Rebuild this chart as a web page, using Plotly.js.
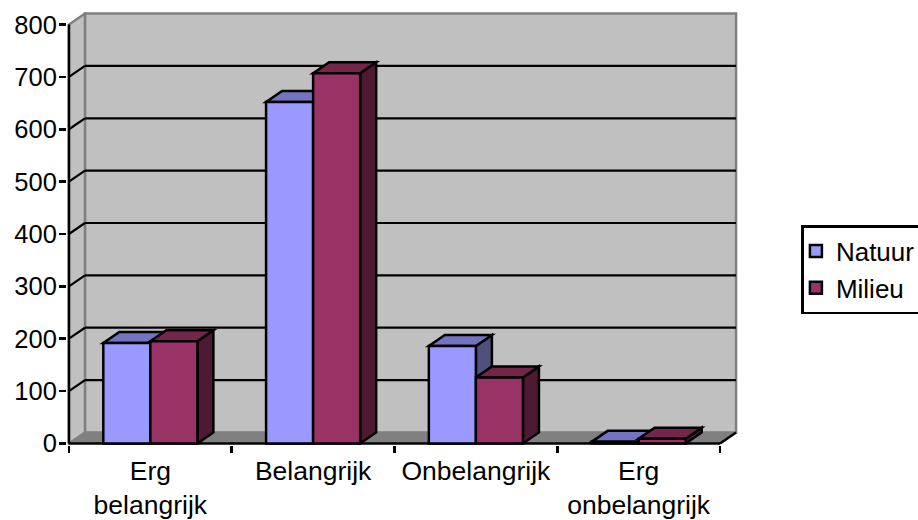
<!DOCTYPE html>
<html>
<head>
<meta charset="utf-8">
<script src="https://cdn.plot.ly/plotly-3.0.1.min.js"></script>
<style>html,body{margin:0;padding:0;background:#fff;overflow:hidden}</style>
</head>
<body>
<div id="chart" style="width:918px;height:520px"></div>
<script>
const categories = ['Erg<br>belangrijk', 'Belangrijk', 'Onbelangrijk', 'Erg<br>onbelangrijk'];
const natuur = [192, 652, 186, 3];
const milieu = [195, 707, 126, 9];
const yTicks = [0, 100, 200, 300, 400, 500, 600, 700, 800];

const barWidth = 0.289;
const depthX = 0.0983;
const depthY = 21;
const xMin = -0.5, xMax = 3.5, yMax = 800;
const padX = 0.012, padY = 3;
const FONT = 'Liberation Sans, Arial, sans-serif';

function poly(pts, fill, line, lw) {
  const path = 'M' + pts.map(p => p[0] + ',' + p[1]).join('L') + 'Z';
  return {type: 'path', xref: 'x', yref: 'y', path, fillcolor: fill,
          line: {color: line, width: lw}, layer: 'below'};
}
function seg(x0, y0, x1, y1, color, w) {
  return {type: 'line', xref: 'x', yref: 'y', x0, y0, x1, y1,
          line: {color, width: w}, layer: 'below'};
}

const shapes = [];
// back wall, side wall, floor
shapes.push(poly([[xMin + depthX, depthY], [xMax + depthX, depthY], [xMax + depthX, yMax + depthY], [xMin + depthX, yMax + depthY]], '#C0C0C0', '#808080', 2.5));
shapes.push(poly([[xMin, 0], [xMin + depthX, depthY], [xMin + depthX, yMax + depthY], [xMin, yMax]], '#C0C0C0', '#808080', 2.5));
shapes.push(poly([[xMin, 0], [xMax, 0], [xMax + depthX, depthY], [xMin + depthX, depthY]], '#808080', '#808080', 1));
// gridlines on the walls
yTicks.slice(1, -1).forEach(v => {
  shapes.push(seg(xMin, v, xMin + depthX, v + depthY, '#000', 2.2));
  shapes.push(seg(xMin + depthX, v + depthY, xMax + depthX, v + depthY, '#000', 2.2));
});
// axis lines
shapes.push(seg(xMin, 0, xMin, yMax, '#000', 2.5));
shapes.push(seg(xMin, 0, xMax, 0, '#000', 2.5));
shapes.push(seg(xMax, 0, xMax + depthX, depthY, '#000', 2.5));

// depth faces of the bars
function faces(values, off, topColor, sideColor) {
  values.forEach((v, i) => {
    const a = i + off, b = a + barWidth;
    shapes.push(poly([[b, 0], [b + depthX, depthY], [b + depthX, v + depthY], [b, v]], sideColor, '#000', 2.5));
    shapes.push(poly([[a, v], [b, v], [b + depthX, v + depthY], [a + depthX, v + depthY]], topColor, '#000', 2.5));
  });
}
faces(natuur, -barWidth, '#7373BF', '#50507F');
faces(milieu, 0, '#732649', '#4D1933');

const traces = [
  {type: 'bar', name: 'Natuur', x: categories, y: natuur, legendgroup: 'a',
   marker: {color: '#9999FF', line: {color: '#000', width: 2.5}}},
  {type: 'bar', name: 'Milieu', x: categories, y: milieu, legendgroup: 'b',
   marker: {color: '#993366', line: {color: '#000', width: 2.5}}}
];

const layout = {
  width: 918, height: 520,
  margin: {l: 67, r: 180, t: 12.4, b: 75.4, pad: 0, autoexpand: false},
  paper_bgcolor: '#fff', plot_bgcolor: 'rgba(0,0,0,0)',
  barmode: 'group', bargap: 1 - 2 * barWidth, bargroupgap: 0,
  font: {family: FONT, size: 25, color: '#000'},
  showlegend: true,
  legend: {x: 1.0945, y: 0.508, xanchor: 'left', yanchor: 'top', bgcolor: '#fff',
           bordercolor: '#000', borderwidth: 2.5, entrywidth: 110, entrywidthmode: 'pixels',
           tracegroupgap: 0, indentation: -8, font: {family: FONT, size: 26, color: '#000'}},
  xaxis: {type: 'category', categoryorder: 'array', categoryarray: categories,
          range: [xMin - padX, xMax + depthX + padX], tickson: 'boundaries', ticks: 'outside', ticklen: 7,
          tickwidth: 2.5, tickcolor: '#000', showline: false, showgrid: false, zeroline: false,
          tickangle: 0, automargin: false, ticklabelstandoff: 7,
          tickfont: {family: FONT, size: 26.5, color: '#000'}},
  yaxis: {range: [-padY, yMax + depthY + padY], tickvals: yTicks, ticks: 'outside', ticklen: 7,
          tickwidth: 2.5, tickcolor: '#000', showline: false, showgrid: false, zeroline: false,
          automargin: false, ticklabelstandoff: -3,
          tickfont: {family: FONT, size: 25.5, color: '#000'}},
  shapes
};
Plotly.newPlot('chart', traces, layout, {displayModeBar: false, staticPlot: true});
</script>
</body>
</html>
